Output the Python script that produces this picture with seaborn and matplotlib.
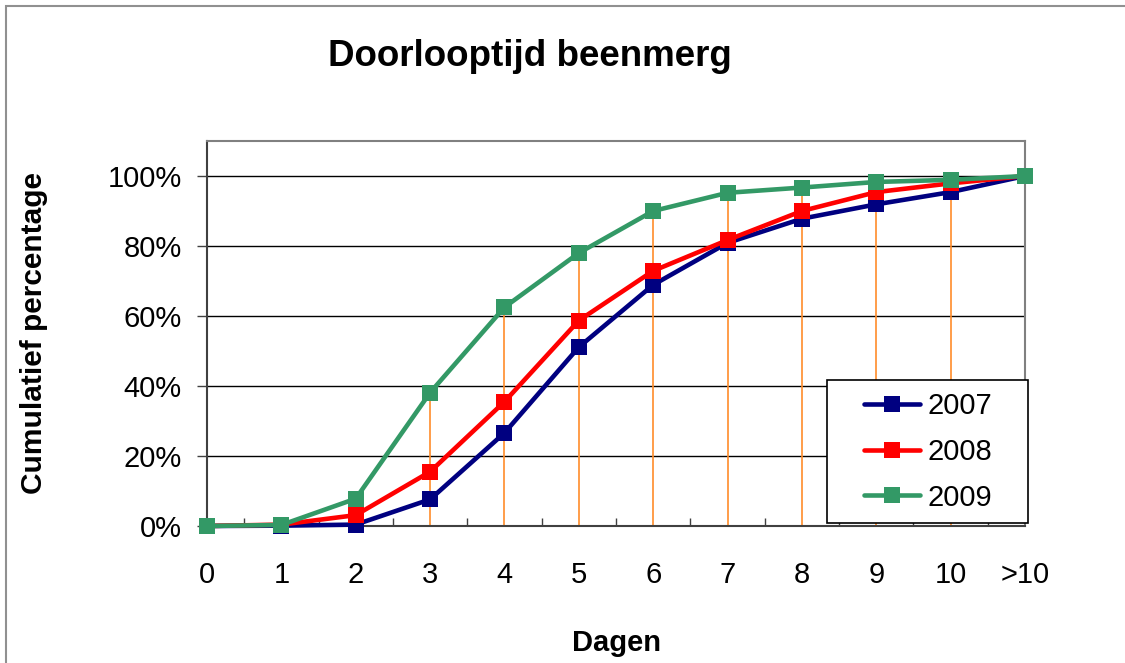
import numpy as np
import pandas as pd
import matplotlib
matplotlib.use("Agg")
import matplotlib.pyplot as plt
from matplotlib.patches import Rectangle
from matplotlib.ticker import PercentFormatter
import seaborn as sns

# data (cumulative %)
dagen = ["0", "1", "2", "3", "4", "5", "6", "7", "8", "9", "10", ">10"]
jaren = ["2007", "2008", "2009"]
waarden_2007 = [0, 0.1, 0.4, 7.6, 26.6, 51.1, 68.9, 80.9, 87.8, 91.9, 95.4, 100]
waarden_2008 = [0, 0.4, 3.1, 15.5, 35.5, 58.7, 72.9, 81.7, 90.0, 95.4, 97.9, 100]
waarden_2009 = [0, 0.3, 7.8, 38.1, 62.5, 78.0, 90.0, 95.2, 96.7, 98.3, 98.9, 100]
kleuren = ["#000080", "#FF0000", "#339966"]

sns.set_theme(style="white", rc={"text.color": "black", "axes.labelcolor": "black"})
plt.rcParams["font.family"] = ["Liberation Sans", "DejaVu Sans"]

pos = np.arange(len(dagen))
df = pd.DataFrame({
    "pos": np.tile(pos, 3),
    "waarde": waarden_2007 + waarden_2008 + waarden_2009,
    "jaar": np.repeat(jaren, len(dagen)),
})

W, H = 1125, 663
fig = plt.figure(figsize=(W / 100, H / 100), dpi=100)
ax = fig.add_axes([207 / W, 1 - 526 / H, (1025 - 207) / W, (526 - 141) / H])

# drop lines from the highest series down to the axis
hoogste = df.groupby("pos")["waarde"].max()
ax.vlines(hoogste.index, 0, hoogste.values, color="#FF8C2A", lw=1.2, zorder=1)

sns.lineplot(data=df, x="pos", y="waarde", hue="jaar", palette=kleuren,
             marker="s", markersize=11, markeredgewidth=0, linewidth=3.3,
             ax=ax, legend=True, zorder=3, clip_on=False)

ax.set_xlim(0, len(dagen) - 1)
ax.set_ylim(0, 110)
ax.set_yticks([0, 20, 40, 60, 80, 100])
ax.yaxis.set_major_formatter(PercentFormatter(decimals=0))
ax.set_xticks(pos)
ax.set_xticklabels(dagen)
ax.set_xticks(pos[:-1] + 0.5, minor=True)
ax.grid(axis="y", color="black", lw=1)
ax.grid(axis="x", visible=False)
ax.set_axisbelow(True)

for s in ["top", "right"]:
    ax.spines[s].set_color("#808080")
    ax.spines[s].set_linewidth(1.5)
for s in ["left", "bottom"]:
    ax.spines[s].set_color("#404040")
    ax.spines[s].set_linewidth(1.5)

ax.tick_params(axis="both", which="major", direction="out", length=7, width=1,
               color="#404040", labelsize=21, labelcolor="black")
ax.tick_params(axis="x", which="major", pad=18)
ax.tick_params(axis="y", which="major", pad=11, left=True)
ax.tick_params(axis="x", which="minor", direction="in", length=6, width=1,
               color="#404040", bottom=True)

ax.set_xlabel("Dagen", fontsize=21, fontweight="bold", labelpad=29, color="black")
ax.set_ylabel("Cumulatief percentage", fontsize=21.5, fontweight="bold", labelpad=43,
              color="black")

fig.text(530 / W, 1 - 56 / H, "Doorlooptijd beenmerg", ha="center", va="center",
         fontsize=26.5, fontweight="bold", color="black")

# legend box (Excel style, wide padding) drawn as a patch, legend content on top
ax.add_patch(Rectangle((827 / W, 1 - 523 / H), 201 / W, 143 / H, transform=fig.transFigure,
                       facecolor="white", edgecolor="black", lw=1.2, zorder=4, clip_on=False))
leg = ax.legend(loc="center", bbox_to_anchor=(928 / W, 1 - 452 / H),
                bbox_transform=fig.transFigure, fontsize=21, frameon=False,
                handlelength=1.95, borderpad=0, labelspacing=0.6, handletextpad=0.25,
                labelcolor="black")
leg.set_zorder(5)

# outer chart border
fig.add_artist(Rectangle((6 / W, -0.1), 1.2, 1.1 - 6 / H, transform=fig.transFigure,
                         fill=False, edgecolor="#909090", lw=1.5))

fig.savefig("out.png", dpi=100)
